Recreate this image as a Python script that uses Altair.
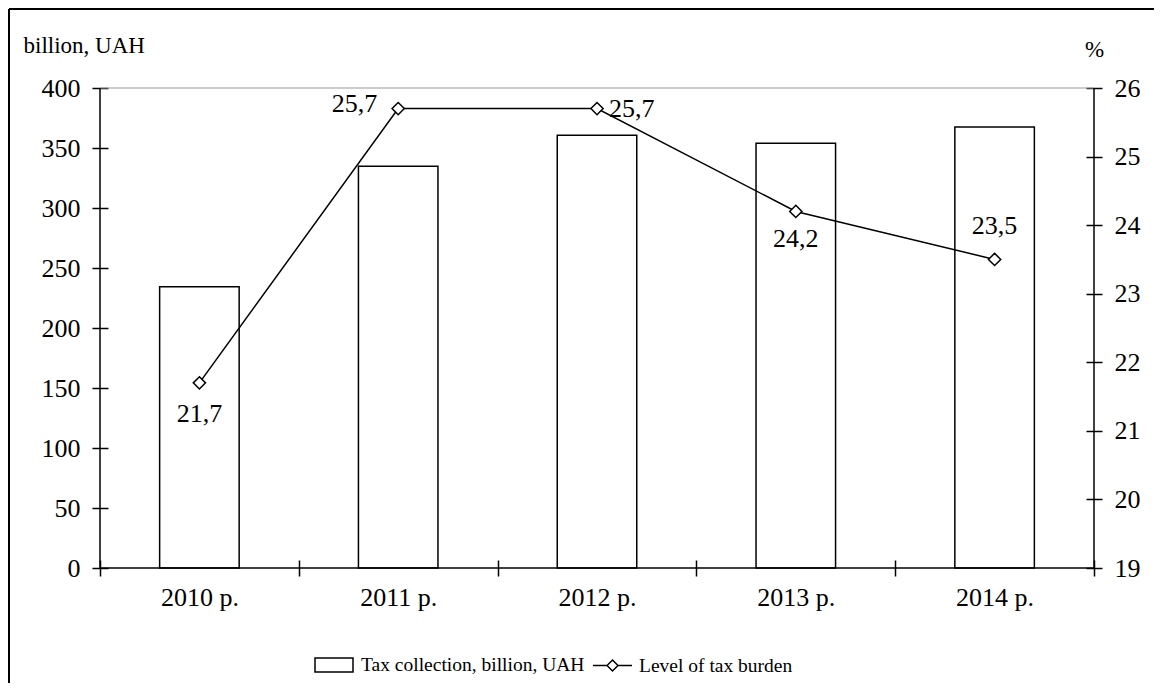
import altair as alt
import pandas as pd

# ---------------- data ----------------
years = ["2010 р.", "2011 р.", "2012 р.", "2013 р.", "2014 р."]
tax_collection = [234.4, 334.7, 360.6, 353.9, 367.5]          # billion UAH
tax_burden = [21.7, 25.7, 25.7, 24.2, 23.5]                    # %
burden_labels = ["21,7", "25,7", "25,7", "24,2", "23,5"]
left_ticks = [0, 50, 100, 150, 200, 250, 300, 350, 400]
right_ticks = [19, 20, 21, 22, 23, 24, 25, 26]
bar_series = "Tax collection, billion, UAH"
line_series = "Level of tax burden"

df = pd.DataFrame({
    "year": years,
    "tax": tax_collection,
    "burden": tax_burden,
    "label": burden_labels,
    "bar_series": bar_series,
    "line_series": line_series,
})
one = pd.DataFrame({"top": [400], "bottom": [0]})

FONT = "Liberation Serif"
W, H = 994, 480
LW = 1.5
FS = 26
LFS = 19.5

# ---------------- shared encodings ----------------
x_enc = alt.X(
    "year:N", sort=years, title=None,
    scale=alt.Scale(paddingInner=0, paddingOuter=0),
    axis=alt.Axis(tickBand="extent", domain=False, offset=-8, tickSize=16,
                  tickColor="black", tickWidth=LW, labelAngle=0, labelPadding=8,
                  labelFontSize=FS, labelFont=FONT, labelColor="black", grid=False),
)

left_scale = alt.Scale(domain=[0, 400], nice=False, zero=True)
left_axis = alt.Axis(
    orient="left", values=left_ticks, domain=False, offset=-8, tickSize=16,
    tickColor="black", tickWidth=LW, grid=False, labelFontSize=FS, labelFont=FONT,
    labelColor="black", labelPadding=12,
    title="billion, UAH", titleAngle=0, titleAlign="left", titleBaseline="alphabetic",
    titleX=-85, titleY=-36, titleFont=FONT, titleFontSize=23,
    titleFontWeight="normal", titleColor="black",
)
right_scale = alt.Scale(domain=[19, 26], nice=False, zero=False)
right_axis = alt.Axis(
    orient="right", values=right_ticks, domain=False, offset=-8, tickSize=16,
    tickColor="black", tickWidth=LW, grid=False, labelFontSize=FS, labelFont=FONT,
    labelColor="black", labelPadding=12,
    title="%", titleAngle=0, titleAlign="center", titleBaseline="alphabetic",
    titleX=8, titleY=-32, titleFont=FONT, titleFontSize=23,
    titleFontWeight="normal", titleColor="black",
)

base = alt.Chart(df)

# ---------------- left group: bars + frame lines ----------------
bars = base.mark_bar(fill="white", strokeWidth=LW, width=alt.RelativeBandSize(0.4)).encode(
    x=x_enc,
    y=alt.Y("tax:Q", scale=left_scale, axis=left_axis, title=None),
    stroke=alt.Stroke(
        "bar_series:N",
        scale=alt.Scale(domain=[bar_series], range=["black"]),
        legend=alt.Legend(
            orient="none", legendX=214, legendY=557, title=None,
            symbolType="M-1,-0.37H1V0.37H-1Z", symbolSize=1444,
            symbolFillColor="white", symbolStrokeWidth=LW, labelLimit=0,
            labelFont=FONT, labelFontSize=LFS, labelColor="black", labelOffset=7,
        ),
    ),
)

top_line = alt.Chart(one).mark_rule(color="#999999", strokeWidth=1.2).encode(
    y=alt.Y("top:Q", scale=left_scale, axis=left_axis, title=None)
)
bottom_line = alt.Chart(one).mark_rule(color="black", strokeWidth=LW).encode(
    y=alt.Y("bottom:Q", scale=left_scale, axis=left_axis, title=None)
)
left_line = alt.Chart(one).mark_rule(color="black", strokeWidth=LW).encode(x=alt.value(0))
right_line = alt.Chart(one).mark_rule(color="black", strokeWidth=LW).encode(x=alt.value(W))
frame_left = alt.Chart(one).mark_rule(color="black", strokeWidth=2).encode(
    x=alt.value(-91), y=alt.value(-79), y2=alt.value(700))
frame_top = alt.Chart(one).mark_rule(color="black", strokeWidth=2).encode(
    x=alt.value(-91), x2=alt.value(1200), y=alt.value(-79))

left_group = alt.layer(bars, top_line, bottom_line, left_line, right_line, frame_left, frame_top)

# ---------------- right group: line, markers, labels ----------------
y_right = alt.Y("burden:Q", scale=right_scale, axis=right_axis, title=None)

line = base.mark_line(strokeWidth=LW).encode(
    x=x_enc,
    y=y_right,
    stroke=alt.Stroke(
        "line_series:N",
        scale=alt.Scale(domain=[line_series], range=["black"]),
        legend=alt.Legend(
            orient="none", legendX=492, legendY=557, title=None,
            symbolType="M-1,0H-0.28M0.28,0H1M-0.28,0L0,-0.28L0.28,0L0,0.28Z",
            symbolSize=1521, symbolFillColor="white", symbolStrokeWidth=LW, labelLimit=0,
            labelFont=FONT, labelFontSize=LFS, labelColor="black", labelOffset=6,
        ),
    ),
)
points = base.mark_point(shape="diamond", size=150, filled=True, fill="white",
                         stroke="black", strokeWidth=LW, opacity=1).encode(x=x_enc, y=y_right)

def lbl(sel, **kw):
    return base.transform_filter(
        alt.FieldOneOfPredicate(field="year", oneOf=sel)
    ).mark_text(font=FONT, fontSize=FS, color="black", baseline="middle", **kw).encode(
        x=x_enc, y=y_right, text="label:N")

lab_below = lbl([years[0]], align="center", dy=31)
lab_below2 = lbl([years[3]], align="center", dy=28)
lab_left = lbl([years[1]], align="right", dx=-21, dy=-5)
lab_right = lbl([years[2]], align="left", dx=12, dy=0)
lab_above = lbl([years[4]], align="center", dy=-33)

right_group = alt.layer(line, points, lab_below, lab_below2, lab_left, lab_right, lab_above)

chart = alt.layer(left_group, right_group).resolve_scale(
    y="independent", stroke="independent"
).properties(
    width=W, height=H,
    autosize=alt.AutoSizeParams(type="none"),
    padding={"left": 92, "top": 80, "right": 60, "bottom": 115},
    background="white",
).configure(
    font=FONT
).configure_view(
    stroke=None
).configure_axis(
    labelFont=FONT, titleFont=FONT
).configure_legend(
    labelFont=FONT
).configure_text(
    font=FONT
)

chart.save("out.html", embed_options={"renderer": "svg", "actions": False})
